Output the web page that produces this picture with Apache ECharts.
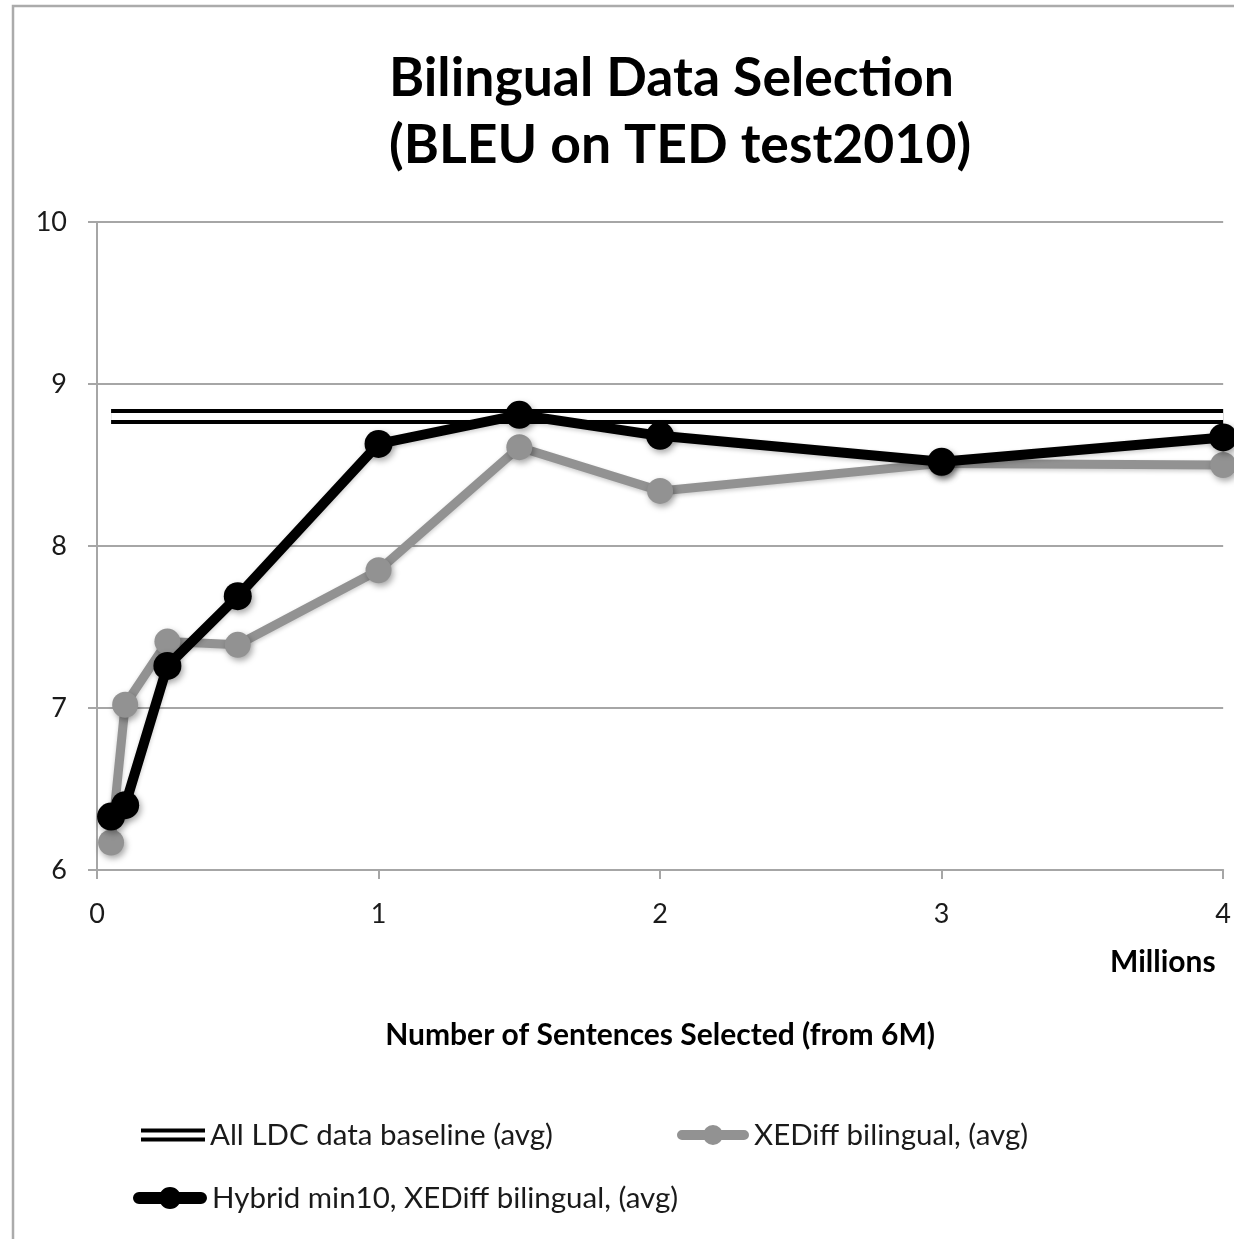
<!DOCTYPE html>
<html>
<head>
<meta charset="utf-8">
<title>Bilingual Data Selection</title>
<script src="https://cdn.jsdelivr.net/npm/echarts@6/dist/echarts.min.js"></script>
<style>
  html, body { margin: 0; padding: 0; background: #fff; }
  #chart { width: 1234px; height: 1239px; }
</style>
</head>
<body>
<div id="chart"></div>
<script>
// Sentences selected (millions) and BLEU scores on TED test2010
const selectedMillions = [0.05, 0.1, 0.25, 0.5, 1, 1.5, 2, 3, 4];
const xediffBleu = [6.17, 7.02, 7.41, 7.39, 7.85, 8.61, 8.34, 8.51, 8.50];
const hybridBleu = [6.33, 6.40, 7.26, 7.69, 8.63, 8.81, 8.68, 8.52, 8.67];
const baselineBleu = 8.80;
const baselineRange = [0.05, 4];

const xTicks = [0, 1, 2, 3, 4];
const yTicks = [6, 7, 8, 9, 10];

const names = {
  baseline: 'All LDC data baseline (avg)',
  xediff: 'XEDiff bilingual, (avg)',
  hybrid: 'Hybrid min10, XEDiff bilingual, (avg)'
};

const FONT = 'Lato, "Open Sans", sans-serif';
const GRAY = '#929292';
const GRID_GRAY = '#a6a6a6';

const pairs = (xs, ys) => xs.map((x, i) => [x, ys[i]]);
const baselineData = baselineRange.map(x => [x, baselineBleu]);

const markerShadow = {
  shadowColor: 'rgba(0,0,0,0.35)',
  shadowBlur: 6,
  shadowOffsetX: 2,
  shadowOffsetY: 3
};

// legend icons: double rule, and bar-with-dot for the point series
const iconDouble = 'path://M0,0H64V4H0Z M0,9H64V13H0Z';
const iconGrayDot = 'path://M5,5H67A5,5 0 0 1 67,15H5A5,5 0 0 1 5,5Z M26,10A10,10 0 1 1 46,10A10,10 0 1 1 26,10Z';
const iconBlackDot = 'path://M6,5H68A6,6 0 0 1 68,17H6A6,6 0 0 1 6,5Z M26,11A11,11 0 1 1 48,11A11,11 0 1 1 26,11Z';

const legendText = { fontFamily: FONT, fontSize: 29.5, color: '#1a1a1a' };

const chart = echarts.init(document.getElementById('chart'), null, { renderer: 'canvas' });

chart.setOption({
  backgroundColor: '#ffffff',
  animation: false,
  title: {
    text: 'Bilingual Data Selection\n(BLEU on TED test2010)',
    left: 384,
    top: 40,
    textStyle: {
      fontFamily: FONT,
      fontWeight: 'bold',
      fontSize: 53.5,
      lineHeight: 67,
      color: '#000',
      align: 'center'
    }
  },
  graphic: [
    {
      type: 'rect',
      shape: { x: 13, y: 6, width: 1300, height: 1300 },
      style: { fill: 'none', stroke: '#ababab', lineWidth: 2.5 },
      silent: true,
      z: -1
    },
    {
      type: 'text',
      left: 1110,
      top: 947,
      style: {
        text: 'Millions',
        fontFamily: FONT,
        fontWeight: 'bold',
        fontSize: 30,
        fill: '#000'
      }
    }
  ],
  legend: [
    {
      left: 136, top: 1115,
      itemWidth: 64, itemHeight: 13,
      data: [{ name: names.baseline, icon: iconDouble }],
      textStyle: legendText,
      selectedMode: false
    },
    {
      left: 672, top: 1115,
      itemWidth: 72, itemHeight: 20,
      data: [{ name: names.xediff, icon: iconGrayDot }],
      textStyle: legendText,
      selectedMode: false
    },
    {
      left: 128, top: 1178,
      itemWidth: 74, itemHeight: 22,
      data: [{ name: names.hybrid, icon: iconBlackDot }],
      textStyle: legendText,
      selectedMode: false
    }
  ],
  grid: { left: 97, top: 222, width: 1129, height: 648, containLabel: false },
  xAxis: {
    type: 'value',
    min: xTicks[0],
    max: xTicks[xTicks.length - 1],
    interval: 1,
    name: 'Number of Sentences Selected (from 6M)',
    nameLocation: 'middle',
    nameGap: 150,
    nameTextStyle: { fontFamily: FONT, fontWeight: 'bold', fontSize: 30, color: '#000' },
    axisLine: { lineStyle: { color: GRID_GRAY, width: 2 } },
    axisTick: { show: true, length: 9, lineStyle: { color: GRID_GRAY, width: 2 } },
    axisLabel: { fontFamily: FONT, fontSize: 27, color: '#1a1a1a', margin: 31 },
    splitLine: { show: false }
  },
  yAxis: {
    type: 'value',
    min: yTicks[0],
    max: yTicks[yTicks.length - 1],
    interval: 1,
    axisLine: { show: true, lineStyle: { color: GRID_GRAY, width: 2 } },
    axisTick: { show: true, length: 9, lineStyle: { color: GRID_GRAY, width: 2 } },
    axisLabel: { fontFamily: FONT, fontSize: 27, color: '#1a1a1a', margin: 30 },
    splitLine: { show: true, lineStyle: { color: GRID_GRAY, width: 2 } }
  },
  series: [
    {
      name: names.baseline,
      type: 'line',
      data: baselineData,
      symbol: 'none',
      color: '#000',
      lineStyle: { color: '#000', width: 15, cap: 'butt' },
      silent: true,
      z: 2
    },
    {
      // inner white stroke turns the baseline into a double rule
      name: 'baseline-gap',
      type: 'line',
      data: baselineData,
      symbol: 'none',
      lineStyle: { color: '#fff', width: 7, cap: 'butt' },
      silent: true,
      z: 2
    },
    {
      name: names.xediff,
      type: 'line',
      data: pairs(selectedMillions, xediffBleu),
      symbol: 'circle',
      symbolSize: 26,
      color: GRAY,
      lineStyle: { color: GRAY, width: 9, shadowColor: 'rgba(0,0,0,0.2)', shadowBlur: 4, shadowOffsetY: 2 },
      itemStyle: Object.assign({ color: GRAY }, markerShadow),
      z: 3
    },
    {
      name: names.hybrid,
      type: 'line',
      data: pairs(selectedMillions, hybridBleu),
      symbol: 'circle',
      symbolSize: 28,
      color: '#000',
      lineStyle: { color: '#000', width: 10, shadowColor: 'rgba(0,0,0,0.2)', shadowBlur: 4, shadowOffsetY: 2 },
      itemStyle: Object.assign({ color: '#000' }, markerShadow),
      z: 4
    }
  ]
});
</script>
</body>
</html>
